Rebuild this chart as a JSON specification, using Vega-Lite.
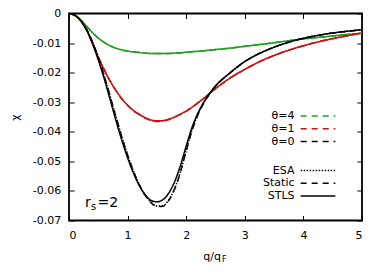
{
  "$schema": "https://vega.github.io/schema/vega-lite/v6.json",
  "width": 293,
  "height": 207,
  "autosize": "none",
  "padding": {"left": 69, "top": 13.5, "right": 22, "bottom": 57.5},
  "background": "white",
  "config": {
    "font": "DejaVu Sans",
    "view": {"stroke": "black", "strokeWidth": 1.8},
    "axis": {"grid": false, "domain": false, "tickColor": "black", "tickSize": -5, "tickWidth": 1, "labelColor": "black", "labelFont": "DejaVu Sans", "labelFontSize": 11, "titleFont": "DejaVu Sans", "titleColor": "black", "titleFontWeight": "normal", "titleFontSize": 11},
    "legend": {"labelFont": "DejaVu Sans", "labelFontSize": 11, "labelColor": "black", "symbolType": "M-5,0H5", "symbolSize": 48, "symbolStrokeWidth": 1.5, "symbolFillColor": "transparent", "labelAlign": "right", "labelOffset": -29, "padding": 0, "rowPadding": 0.8}
  },
  "datasets": {
    "keys": [
      {"k": "gE", "theta": "θ=4", "method": "ESA"},
      {"k": "gD", "theta": "θ=4", "method": "Static"},
      {"k": "gS", "theta": "θ=4", "method": "STLS"},
      {"k": "rE", "theta": "θ=1", "method": "ESA"},
      {"k": "rD", "theta": "θ=1", "method": "Static"},
      {"k": "rS", "theta": "θ=1", "method": "STLS"},
      {"k": "kE", "theta": "θ=0", "method": "ESA"},
      {"k": "kD", "theta": "θ=0", "method": "Static"},
      {"k": "kS", "theta": "θ=0", "method": "STLS"}
    ],
    "curves": [
      {"q": 0, "gE": 0, "gD": 0, "gS": 0, "rE": 0, "rD": 0, "rS": 0, "kS": 0, "kD": 0, "kE": 0},
      {"q": 0.1, "gE": -0.0006, "gD": -0.0006, "gS": -0.0006, "rE": -0.0006, "rD": -0.0006, "rS": -0.0006, "kS": -0.0006, "kD": -0.0006, "kE": -0.0006},
      {"q": 0.2, "gE": -0.0022, "gD": -0.0022, "gS": -0.0022, "rE": -0.0024, "rD": -0.0024, "rS": -0.0024, "kS": -0.0025, "kD": -0.0024, "kE": -0.0024},
      {"q": 0.3, "gE": -0.0043, "gD": -0.0043, "gS": -0.0043, "rE": -0.0055, "rD": -0.0055, "rS": -0.0055, "kS": -0.0057, "kD": -0.0054, "kE": -0.0054},
      {"q": 0.4, "gE": -0.0065, "gD": -0.0065, "gS": -0.0065, "rE": -0.0098, "rD": -0.0098, "rS": -0.0098, "kS": -0.0102, "kD": -0.0097, "kE": -0.0096},
      {"q": 0.5, "gE": -0.0083, "gD": -0.0083, "gS": -0.0083, "rE": -0.0147, "rD": -0.0147, "rS": -0.0147, "kS": -0.0157, "kD": -0.015, "kE": -0.0149},
      {"q": 0.6, "gE": -0.0098, "gD": -0.0098, "gS": -0.0098, "rE": -0.019, "rD": -0.019, "rS": -0.019, "kS": -0.022, "kD": -0.0211, "kE": -0.021},
      {"q": 0.7, "gE": -0.0109, "gD": -0.0109, "gS": -0.0109, "rE": -0.0228, "rD": -0.0228, "rS": -0.0228, "kS": -0.029, "kD": -0.0279, "kE": -0.0278},
      {"q": 0.8, "gE": -0.0117, "gD": -0.0117, "gS": -0.0117, "rE": -0.026, "rD": -0.026, "rS": -0.026, "kS": -0.0361, "kD": -0.0349, "kE": -0.0348},
      {"q": 0.9, "gE": -0.0123, "gD": -0.0123, "gS": -0.0123, "rE": -0.0288, "rD": -0.0288, "rS": -0.0288, "kS": -0.0428, "kD": -0.0417, "kE": -0.0416},
      {"q": 1.0, "gE": -0.0127, "gD": -0.0127, "gS": -0.0127, "rE": -0.031, "rD": -0.031, "rS": -0.031, "kS": -0.0488, "kD": -0.0479, "kE": -0.0478},
      {"q": 1.1, "gE": -0.013, "gD": -0.013, "gS": -0.013, "rE": -0.0329, "rD": -0.0329, "rS": -0.0328, "kS": -0.054, "kD": -0.0534, "kE": -0.0533},
      {"q": 1.2, "gE": -0.0132, "gD": -0.0132, "gS": -0.0132, "rE": -0.0342, "rD": -0.0342, "rS": -0.0341, "kS": -0.0582, "kD": -0.058, "kE": -0.0579},
      {"q": 1.3, "gE": -0.0134, "gD": -0.0134, "gS": -0.0134, "rE": -0.0354, "rD": -0.0354, "rS": -0.0352, "kS": -0.0613, "kD": -0.0615, "kE": -0.0614},
      {"q": 1.4, "gE": -0.0135, "gD": -0.0135, "gS": -0.0135, "rE": -0.0362, "rD": -0.0362, "rS": -0.036, "kS": -0.0632, "kD": -0.064, "kE": -0.0638},
      {"q": 1.5, "gE": -0.0135, "gD": -0.0135, "gS": -0.0135, "rE": -0.0365, "rD": -0.0365, "rS": -0.0363, "kS": -0.0637, "kD": -0.0653, "kE": -0.0651},
      {"q": 1.6, "gE": -0.0135, "gD": -0.0135, "gS": -0.0135, "rE": -0.0364, "rD": -0.0364, "rS": -0.0362, "kS": -0.063, "kD": -0.0652, "kE": -0.065},
      {"q": 1.7, "gE": -0.0135, "gD": -0.0135, "gS": -0.0135, "rE": -0.0359, "rD": -0.0359, "rS": -0.0357, "kS": -0.0608, "kD": -0.0633, "kE": -0.0631},
      {"q": 1.8, "gE": -0.0134, "gD": -0.0134, "gS": -0.0134, "rE": -0.0351, "rD": -0.0351, "rS": -0.035, "kS": -0.057, "kD": -0.0595, "kE": -0.0593},
      {"q": 1.9, "gE": -0.0133, "gD": -0.0133, "gS": -0.0133, "rE": -0.0341, "rD": -0.0341, "rS": -0.034, "kS": -0.0515, "kD": -0.0538, "kE": -0.0536},
      {"q": 2.0, "gE": -0.0131, "gD": -0.0131, "gS": -0.0131, "rE": -0.033, "rD": -0.033, "rS": -0.033, "kS": -0.0448, "kD": -0.0465, "kE": -0.0463},
      {"q": 2.1, "gE": -0.0129, "gD": -0.0129, "gS": -0.0129, "rE": -0.0317, "rD": -0.0317, "rS": -0.0317, "kS": -0.0385, "kD": -0.0395, "kE": -0.0394},
      {"q": 2.2, "gE": -0.0128, "gD": -0.0128, "gS": -0.0128, "rE": -0.0302, "rD": -0.0302, "rS": -0.0302, "kS": -0.0337, "kD": -0.0342, "kE": -0.0341},
      {"q": 2.3, "gE": -0.0126, "gD": -0.0126, "gS": -0.0126, "rE": -0.0287, "rD": -0.0287, "rS": -0.0287, "kS": -0.03, "kD": -0.0303, "kE": -0.0302},
      {"q": 2.4, "gE": -0.0124, "gD": -0.0124, "gS": -0.0124, "rE": -0.027, "rD": -0.027, "rS": -0.027, "kS": -0.027, "kD": -0.0272, "kE": -0.0271},
      {"q": 2.5, "gE": -0.0122, "gD": -0.0122, "gS": -0.0122, "rE": -0.0254, "rD": -0.0254, "rS": -0.0254, "kS": -0.0245, "kD": -0.0246, "kE": -0.0246},
      {"q": 2.75, "gE": -0.0117, "gD": -0.0117, "gS": -0.0117, "rE": -0.0218, "rD": -0.0218, "rS": -0.0218, "kS": -0.02, "kD": -0.0201, "kE": -0.0201},
      {"q": 3.0, "gE": -0.0111, "gD": -0.0111, "gS": -0.0111, "rE": -0.0189, "rD": -0.0189, "rS": -0.0189, "kS": -0.0162, "kD": -0.0163, "kE": -0.0163},
      {"q": 3.25, "gE": -0.0105, "gD": -0.0105, "gS": -0.0105, "rE": -0.0163, "rD": -0.0163, "rS": -0.0163, "kS": -0.0135, "kD": -0.0135, "kE": -0.0135},
      {"q": 3.5, "gE": -0.0099, "gD": -0.0099, "gS": -0.0099, "rE": -0.0142, "rD": -0.0142, "rS": -0.0142, "kS": -0.0114, "kD": -0.0114, "kE": -0.0114},
      {"q": 3.75, "gE": -0.0092, "gD": -0.0092, "gS": -0.0092, "rE": -0.0124, "rD": -0.0124, "rS": -0.0124, "kS": -0.0097, "kD": -0.0097, "kE": -0.0097},
      {"q": 4.0, "gE": -0.0086, "gD": -0.0086, "gS": -0.0086, "rE": -0.0109, "rD": -0.0109, "rS": -0.0109, "kS": -0.0084, "kD": -0.0084, "kE": -0.0084},
      {"q": 4.25, "gE": -0.0081, "gD": -0.0081, "gS": -0.0081, "rE": -0.0096, "rD": -0.0096, "rS": -0.0096, "kS": -0.0074, "kD": -0.0074, "kE": -0.0074},
      {"q": 4.5, "gE": -0.0076, "gD": -0.0076, "gS": -0.0076, "rE": -0.0085, "rD": -0.0085, "rS": -0.0085, "kS": -0.0066, "kD": -0.0066, "kE": -0.0066},
      {"q": 4.75, "gE": -0.0071, "gD": -0.0071, "gS": -0.0071, "rE": -0.0075, "rD": -0.0075, "rS": -0.0075, "kS": -0.006, "kD": -0.006, "kE": -0.006},
      {"q": 5.0, "gE": -0.0067, "gD": -0.0067, "gS": -0.0067, "rE": -0.0066, "rD": -0.0066, "rS": -0.0066, "kS": -0.0055, "kD": -0.0055, "kE": -0.0055}
    ]
  },
  "resolve": {"axis": {"x": "independent", "y": "independent"}},
  "layer": [
    {
      "data": {"name": "curves"},
      "transform": [
        {"fold": ["gE", "gD", "gS", "rE", "rD", "rS", "kE", "kD", "kS"], "as": ["k", "chi"]},
        {"lookup": "k", "from": {"data": {"name": "keys"}, "key": "k", "fields": ["theta", "method"]}}
      ],
      "mark": {"type": "line", "strokeWidth": 1.5, "interpolate": "monotone"},
      "encoding": {
        "x": {"field": "q", "type": "quantitative", "scale": {"domain": [0, 5], "nice": false, "zero": false},
              "axis": {"orient": "bottom", "values": [0, 1, 2, 3, 4, 5], "labelPadding": 13.5, "title": "q/q", "titleX": 133.7, "titleY": 38.5, "titleAlign": "left", "titleBaseline": "alphabetic"}},
        "y": {"field": "chi", "type": "quantitative", "scale": {"domain": [-0.07, 0], "nice": false, "zero": false},
              "axis": {"orient": "left", "values": [0, -0.01, -0.02, -0.03, -0.04, -0.05, -0.06, -0.07], "format": ".2~f", "labelExpr": "replace(datum.label, '\u2212', '-')", "labelPadding": 13.3, "title": "χ", "titleX": -54, "titleY": 103.5, "titleAngle": -90, "titleAlign": "center", "titleBaseline": "middle"}},
        "color": {"field": "theta", "type": "nominal", "scale": {"domain": ["θ=4", "θ=1", "θ=0"], "range": ["#20a020", "#cc1010", "#000000"]},
                  "legend": {"title": null, "orient": "none", "legendX": 243.5, "legendY": 97, "symbolDash": [6, 5]}},
        "strokeDash": {"field": "method", "type": "nominal", "scale": {"domain": ["ESA", "Static", "STLS"], "range": [[1.5, 1.5], [6, 5], [1, 0]]},
                       "legend": {"title": null, "orient": "none", "legendX": 243.5, "legendY": 151.5, "symbolStrokeColor": "black"}}
      }
    },
    {
      "data": {"name": "curves"},
      "mark": {"type": "point", "opacity": 0, "size": 0},
      "encoding": {
        "x": {"field": "q", "type": "quantitative", "scale": {"domain": [0, 5], "nice": false, "zero": false},
              "axis": {"orient": "top", "values": [0, 1, 2, 3, 4, 5], "labels": false, "title": null}},
        "y": {"field": "kS", "type": "quantitative", "scale": {"domain": [-0.07, 0], "nice": false, "zero": false},
              "axis": {"orient": "right", "values": [0, -0.01, -0.02, -0.03, -0.04, -0.05, -0.06, -0.07], "labels": false, "title": null}}
      }
    },
    {
      "data": {"name": "curves"},
      "mark": {"type": "point", "opacity": 0, "size": 0},
      "encoding": {
        "x": {"field": "q", "type": "quantitative", "scale": {"domain": [0, 5], "nice": false, "zero": false},
              "axis": {"orient": "bottom", "labels": false, "ticks": false, "domain": false, "title": "F", "titleFontSize": 8, "titleX": 152.5, "titleY": 41, "titleAlign": "left", "titleBaseline": "alphabetic"}},
        "y": {"field": "kS", "type": "quantitative", "axis": null}
      }
    },
    {
      "data": {"values": [{"q": 0.273, "chi": -0.0653, "label": "r"}]},
      "mark": {"type": "text", "align": "left", "baseline": "alphabetic", "fontSize": 14, "font": "DejaVu Sans", "color": "black"},
      "encoding": {
        "x": {"field": "q", "type": "quantitative", "axis": null},
        "y": {"field": "chi", "type": "quantitative", "axis": null},
        "text": {"field": "label"}
      }
    },
    {
      "data": {"values": [{"q": 0.273, "chi": -0.0653, "label": "s"}]},
      "mark": {"type": "text", "align": "left", "baseline": "alphabetic", "fontSize": 10, "font": "DejaVu Sans", "color": "black", "dx": 6, "dy": 3.5},
      "encoding": {
        "x": {"field": "q", "type": "quantitative", "axis": null},
        "y": {"field": "chi", "type": "quantitative", "axis": null},
        "text": {"field": "label"}
      }
    },
    {
      "data": {"values": [{"q": 0.273, "chi": -0.0653, "label": "=2"}]},
      "mark": {"type": "text", "align": "left", "baseline": "alphabetic", "fontSize": 14, "font": "DejaVu Sans", "color": "black", "dx": 12.5},
      "encoding": {
        "x": {"field": "q", "type": "quantitative", "axis": null},
        "y": {"field": "chi", "type": "quantitative", "axis": null},
        "text": {"field": "label"}
      }
    }
  ]
}
